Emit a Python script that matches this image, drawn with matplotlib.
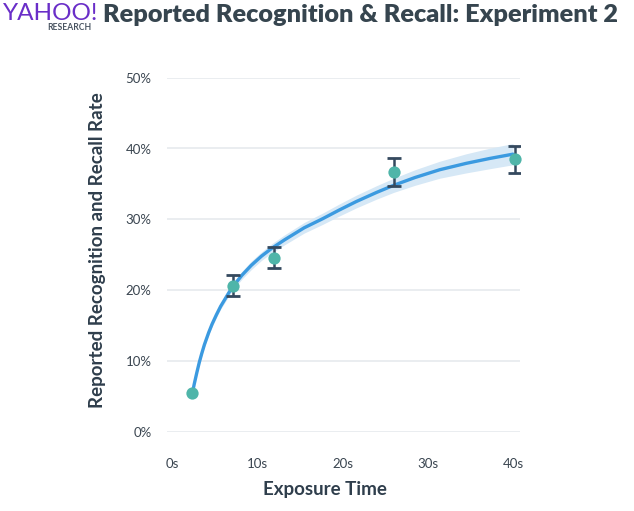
import matplotlib
matplotlib.use("Agg")
import matplotlib.pyplot as plt

# observed data points (exposure seconds, recall %)
exposure = [2.4, 7.2, 12.0, 26.0, 40.2]
rate = [5.5, 20.6, 24.5, 36.7, 38.5]
err_low = [0.0, 1.4, 1.4, 2.0, 1.9]
err_high = [0.0, 1.5, 1.6, 1.9, 1.8]

# fitted curve
curve_x = [2.4, 2.6, 2.9, 3.2, 3.5, 3.8, 4.3, 4.7, 5.2, 5.7, 6.2, 6.7, 7.2, 8.2,
           9.3, 10.5, 11.7, 13.2, 15.5, 17.7, 19.6, 21.6, 24.0, 26.0, 28.5,
           31.4, 34.5, 37.3, 40.0]
curve_y = [5.5, 6.7, 8.3, 9.8, 11.1, 12.3, 14.0, 15.2, 16.5, 17.7, 18.7, 19.7,
           20.6, 22.1, 23.5, 24.8, 25.9, 27.1, 28.8, 30.1, 31.3, 32.5, 33.8,
           34.8, 35.9, 37.0, 37.9, 38.6, 39.2]
band_half = [0.2, 0.2, 0.25, 0.25, 0.3, 0.3, 0.35, 0.35, 0.4, 0.4, 0.45, 0.45,
             0.5, 0.55, 0.6, 0.6, 0.65, 0.7, 0.75, 0.8, 0.85, 0.9, 0.95, 1.0,
             1.1, 1.2, 1.35, 1.45, 1.5]

x_ticks = [0, 10, 20, 30, 40]
x_labels = ["0s", "10s", "20s", "30s", "40s"]
y_ticks = [0, 10, 20, 30, 40, 50]
y_labels = ["0%", "10%", "20%", "30%", "40%", "50%"]

plt.rcParams["font.family"] = ["Lato", "DejaVu Sans"]
dark = "#2f3e4c"

fig = plt.figure(figsize=(6.34, 5.11), dpi=100)
ax = fig.add_axes([167 / 634, 1 - 431.7 / 511, (520 - 167) / 634, (431.7 - 77.7) / 511])

lo = [y - h for y, h in zip(curve_y, band_half)]
hi = [y + h for y, h in zip(curve_y, band_half)]
ax.fill_between(curve_x, lo, hi, color="#d6e8f6", lw=0, zorder=2)
ax.plot(curve_x, curve_y, color="#3b9ae0", lw=2.4, solid_capstyle="round",
        solid_joinstyle="round", zorder=3)

ax.errorbar(exposure[1:], rate[1:], yerr=[err_low[1:], err_high[1:]], fmt="none",
            ecolor="#34495e", elinewidth=1.8, capsize=5, capthick=2, zorder=4)
ax.scatter(exposure, rate, s=78, color="#4fb5a9", zorder=5, clip_on=False, lw=0)

ax.set_xlim(-0.59, 40.82)
ax.set_ylim(0, 50)
ax.set_xticks(x_ticks)
ax.set_xticklabels(x_labels)
ax.set_yticks(y_ticks)
ax.set_yticklabels(y_labels)
ax.tick_params(length=0, labelsize=9.5, labelcolor="#3a4550")
ax.tick_params(axis="x", pad=19)
ax.tick_params(axis="y", pad=11)
ax.grid(axis="y", color="#e6eaee", lw=1.2)
ax.set_axisbelow(True)
for s in ax.spines.values():
    s.set_visible(False)

fig.text(325 / 634, 1 - 489 / 511, "Exposure Time", ha="center", va="center",
         fontsize=13.5, fontweight="bold", color=dark)
fig.text(98 / 634, 1 - 250 / 511, "Reported Recognition and Recall Rate", ha="center",
         va="center", rotation=90, fontsize=13.5, fontweight="bold", color=dark)

# header
fig.text(3 / 634, 1 - 13 / 511, "YAHOO!", ha="left", va="center", fontsize=17.5,
         color="#6a2ec8", fontweight="normal")
fig.text(91 / 634, 1 - 28 / 511, "RESEARCH", ha="right", va="center", fontsize=6.2,
         color="#4a5562", fontweight="bold")
fig.text(103 / 634, 1 - 15 / 511, "Reported Recognition & Recall: Experiment 2",
         ha="left", va="center", fontsize=18.2, fontweight="heavy", color="#36454f")

fig.savefig("out.png", dpi=100)
